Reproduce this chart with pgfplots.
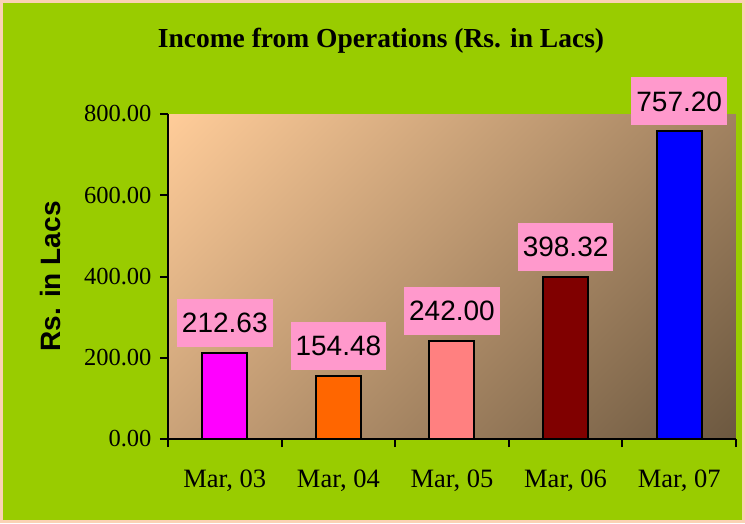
\documentclass[border=0pt]{standalone}
\usepackage{fontspec}
\setmainfont{Liberation Serif}
\newfontfamily\arialfont{Liberation Sans}
\usepackage{pgfplots}
\pgfplotsset{compat=1.18}
\definecolor{bggreen}{RGB}{153,204,0}
\definecolor{peachborder}{RGB}{250,210,180}
\definecolor{gradA}{RGB}{255,204,153}
\definecolor{gradB}{RGB}{108,88,64}
\definecolor{lblpink}{RGB}{255,153,204}
\definecolor{cA}{RGB}{255,0,255}
\definecolor{cB}{RGB}{255,102,0}
\definecolor{cC}{RGB}{255,128,128}
\definecolor{cD}{RGB}{128,0,0}
\definecolor{cE}{RGB}{0,0,255}
\pgfdeclarehorizontalshading{diagshade}{100bp}{color(0bp)=(gradA); color(14.64bp)=(gradA); color(85.36bp)=(gradB); color(100bp)=(gradB)}
\begin{document}
\begin{tikzpicture}[x=1pt,y=1pt]
\fill[peachborder] (-168,-84) rectangle (577,439);
\fill[bggreen] (-165,-81) rectangle (574,436);
\begin{axis}[
  at={(0,0)}, anchor=south west,
  scale only axis, width=568pt, height=325pt,
  xmin=-0.5, xmax=4.5, ymin=0, ymax=800,
  axis x line*=bottom, axis y line*=left,
  axis line style={-, line width=2pt, black},
  axis background/.style={shade, shading=diagshade, shading angle=-45},
  xtick={0,1,2,3,4},
  xticklabels={{Mar, 03},{Mar, 04},{Mar, 05},{Mar, 06},{Mar, 07}},
  minor xtick={-0.5,0.5,1.5,2.5,3.5,4.5},
  major x tick style={draw=none},
  minor tick length=8pt,
  ytick={0,200,400,600,800},
  major tick length=8pt,
  tick align=outside,
  tick style={line width=2pt, black},
  yticklabel style={/pgf/number format/fixed, /pgf/number format/fixed zerofill, /pgf/number format/precision=2, /pgf/number format/assume math mode=true, font=\fontsize{24.5}{26}\selectfont, xshift=-5pt},
  xticklabel style={font=\fontsize{26.5}{28}\selectfont, yshift=-19pt},
  clip=false,
  ybar,
  bar width=45pt,
  nodes near coords={\pgfmathprintnumber[fixed,fixed zerofill,precision=2,assume math mode=true]{\pgfplotspointmeta}},
  every node near coord/.append style={fill=lblpink, anchor=south, yshift=5pt, inner xsep=5pt, minimum height=48pt, font=\arialfont\fontsize{28}{30}\selectfont, text=black},
]
\addplot[fill=cA, draw=black, line width=2pt, bar shift=0pt] coordinates {(0,212.63)};
\addplot[fill=cB, draw=black, line width=2pt, bar shift=0pt] coordinates {(1,154.48)};
\addplot[fill=cC, draw=black, line width=2pt, bar shift=0pt] coordinates {(2,242.00)};
\addplot[fill=cD, draw=black, line width=2pt, bar shift=0pt] coordinates {(3,398.32)};
\addplot[fill=cE, draw=black, line width=2pt, bar shift=0pt] coordinates {(4,757.20)};
\end{axis}
\node[font=\bfseries\fontsize{27.5}{30}\selectfont] at (213,398) {Income from Operations (Rs. in Lacs)};
\node[rotate=90, font=\arialfont\bfseries\fontsize{28}{30}\selectfont] at (-118,162.5) {Rs. in Lacs};
\pgfresetboundingbox
\path[use as bounding box] (-168,-84) rectangle (577,439);
\end{tikzpicture}
\end{document}
